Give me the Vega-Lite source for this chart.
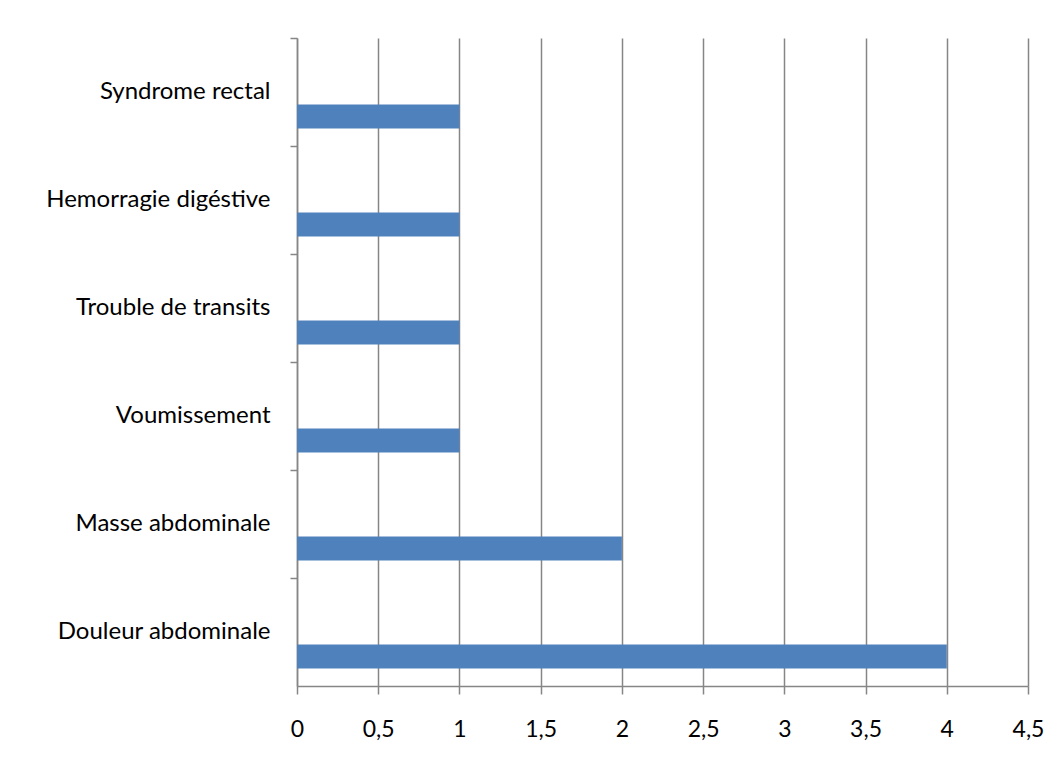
{
  "$schema": "https://vega.github.io/schema/vega-lite/v6.json",
  "autosize": "none",
  "width": 731,
  "height": 648,
  "padding": {"left": 297, "top": 38, "right": 34, "bottom": 83},
  "background": "white",
  "data": {
    "values": [
      {"symptome": "Syndrome rectal", "n": 1},
      {"symptome": "Hemorragie digéstive", "n": 1},
      {"symptome": "Trouble de transits", "n": 1},
      {"symptome": "Voumissement", "n": 1},
      {"symptome": "Masse abdominale", "n": 2},
      {"symptome": "Douleur abdominale", "n": 4}
    ]
  },
  "mark": {"type": "bar", "color": "#4F81BD", "height": 24, "yOffset": 24.5},
  "encoding": {
    "y": {
      "field": "symptome",
      "type": "nominal",
      "sort": null,
      "scale": {"paddingInner": 0, "paddingOuter": 0},
      "axis": {
        "title": null,
        "bandPosition": 0,
        "labelOffset": 0,
        "tickSize": 7,
        "labelPadding": 20,
        "grid": false,
        "domainColor": "#868686",
        "tickColor": "#868686",
        "domainWidth": 1.5,
        "tickWidth": 1.5,
        "labelFont": "Lato",
        "labelFontSize": 24,
        "labelColor": "#000000",
        "labelLimit": 400
      }
    },
    "x": {
      "field": "n",
      "type": "quantitative",
      "scale": {"domain": [0, 4.5], "nice": false},
      "axis": {
        "title": null,
        "values": [0, 0.5, 1, 1.5, 2, 2.5, 3, 3.5, 4, 4.5],
        "labelExpr": "replace(format(datum.value, '~g'), '.', ',')",
        "tickSize": 8,
        "labelPadding": 24,
        "grid": true,
        "gridColor": "#868686",
        "gridWidth": 1.5,
        "domainColor": "#868686",
        "tickColor": "#868686",
        "domainWidth": 1.5,
        "tickWidth": 1.5,
        "labelFont": "Lato",
        "labelFontSize": 23,
        "labelColor": "#000000",
        "labelFlush": false
      }
    }
  },
  "config": {"view": {"stroke": null}}
}
